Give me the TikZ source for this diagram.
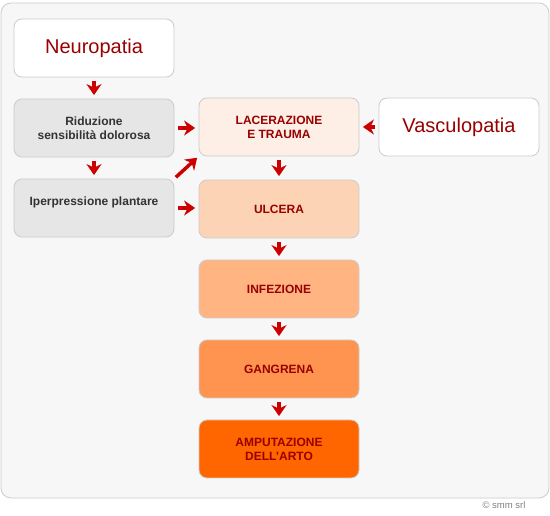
\documentclass[tikz,border=0pt]{standalone}
\usepackage{fontspec}
\setmainfont{Liberation Sans}
\usetikzlibrary{arrows.meta}

\definecolor{panelgray}{HTML}{F7F7F7}
\definecolor{linegray}{HTML}{CCCCCC}
\definecolor{boxgray}{HTML}{E6E6E6}
\definecolor{darkred}{HTML}{990000}
\definecolor{arrowred}{HTML}{CC0000}
\definecolor{stepA}{HTML}{FDEEE6}
\definecolor{stepB}{HTML}{FDD3B6}
\definecolor{stepC}{HTML}{FFB482}
\definecolor{stepD}{HTML}{FF9450}
\definecolor{stepE}{HTML}{FF6600}

\tikzset{
	box/.style={draw=linegray, line width=0.8pt, rounded corners=8pt,
		minimum width=160pt, minimum height=58pt, inner sep=0pt, align=center},
	bigbox/.style={box, fill=white, text=darkred, font=\fontsize{20}{24}\selectfont},
	causebox/.style={box, fill=boxgray, text=black!80, font=\fontsize{12}{14}\selectfont\bfseries},
	stagebox/.style={box, text=darkred, font=\fontsize{12}{14}\selectfont\bfseries},
	link/.style={arrowred, line width=3.5pt,
		-{Stealth[length=11pt, width=15pt, inset=3.5pt]}, shorten <=3.5pt, shorten >=3.5pt}
}

\begin{document}
\begin{tikzpicture}[x=1pt, y=-1pt]
	\useasboundingbox (0,0) rectangle (550,516);
	\draw [fill=panelgray, draw=linegray, line width=0.8pt, rounded corners=10pt] (1,3) rectangle (549,498);

	% left column
	\node [bigbox] (neuro) at (94,48) {Neuropatia};
	\node [causebox] (ridu) at (94,128) {Riduzione\\sensibilità dolorosa};
	\node [causebox] (iper) at (94,208) {Iperpressione plantare\\~};

	% middle column
	\node [stagebox, fill=stepA] (lacer) at (279,127) {LACERAZIONE\\E TRAUMA};
	\node [stagebox, fill=stepB] (ulcer) at (279,209) {ULCERA};
	\node [stagebox, fill=stepC] (infez) at (279,289) {INFEZIONE};
	\node [stagebox, fill=stepD] (gangr) at (279,369) {GANGRENA};
	\node [stagebox, fill=stepE] (amput) at (279,449) {AMPUTAZIONE\\DELL'ARTO};

	% right
	\node [bigbox] (vasc) at (459,127) {Vasculopatia};

	\draw [link] (neuro) -- (ridu);
	\draw [link] (ridu) -- (iper);
	\draw [link] (ridu.east) -- (ridu.east -| lacer.west);
	\draw [link] (iper.east) -- (iper.east -| ulcer.west);
	\draw [link, shorten <=2pt, shorten >=2pt] (iper.north east) -- (lacer.south west);
	\draw [link] (vasc.west) -- (vasc.west -| lacer.east);
	\draw [link] (lacer) -- (ulcer);
	\draw [link] (ulcer) -- (infez);
	\draw [link] (infez) -- (gangr);
	\draw [link] (gangr) -- (amput);

	\node [text=black!50, font=\fontsize{9.5}{11}\selectfont, anchor=east] (copy) at (529,505) {© smm srl};
\end{tikzpicture}
\end{document}
